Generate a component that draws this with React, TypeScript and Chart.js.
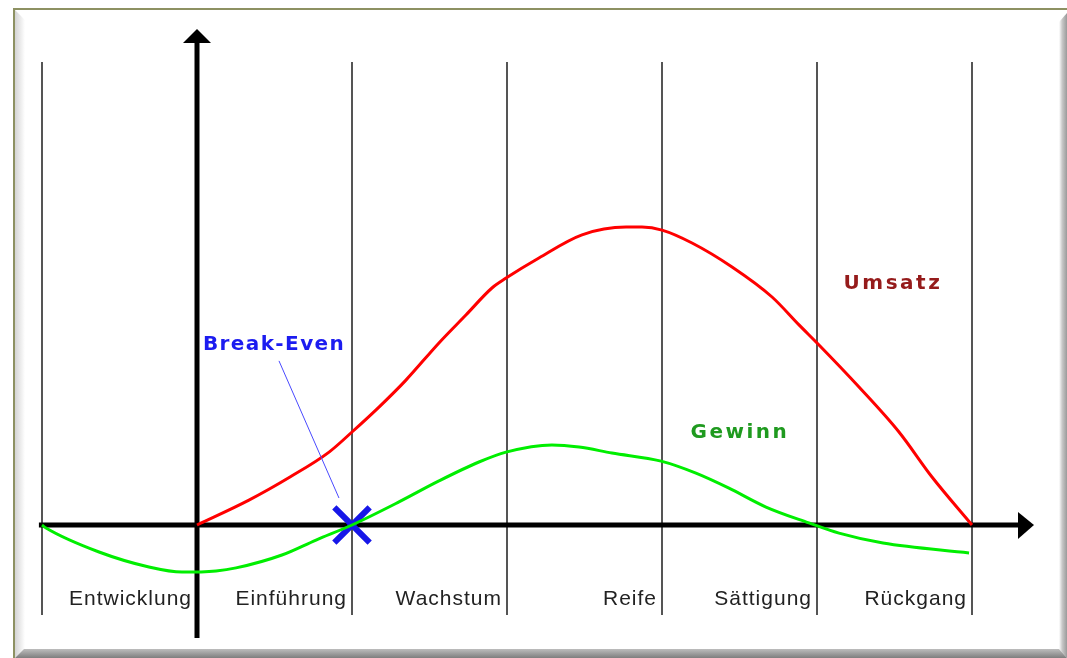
import React, { useEffect, useRef } from "react";
import { Chart, registerables } from "chart.js";

Chart.register(...registerables);

// Phase boundaries (x in phase units; 0 = y-axis)
const phaseBoundaries = [-1, 0, 1, 2, 3, 4, 5];
const phaseLabels = ["Entwicklung", "Einführung", "Wachstum", "Reife", "Sättigung", "Rückgang"];

// Umsatz (sales) curve
const umsatzX = [0, 0.335, 0.6, 0.852, 1.0, 1.174, 1.348, 1.561, 1.735, 1.903, 1.994, 2.206, 2.484, 2.768, 2.871, 3.0, 3.194, 3.452, 3.71, 3.884, 4.013, 4.271, 4.529, 4.742, 5.0];
const umsatzY = [0, 8.3, 16, 24.3, 31, 39.3, 48.3, 60.7, 70, 79, 82.3, 89, 96.7, 99.3, 99.3, 98.3, 94, 86, 76, 66.7, 60, 46, 31, 16, 0];

// Gewinn (profit) curve
const gewinnX = [-1, -0.974, -0.632, -0.31, -0.097, 0.123, 0.252, 0.548, 0.768, 1.0, 1.303, 1.561, 1.819, 1.994, 2.29, 2.465, 2.677, 2.994, 3.219, 3.432, 3.671, 3.948, 4.142, 4.426, 4.981];
const gewinnY = [0, -1, -9, -14, -15.7, -15.3, -14.3, -10, -5, 0, 7.7, 14.7, 21, 24.3, 26.7, 26, 24, 21.3, 17.3, 12.3, 6, 0.7, -2.7, -6, -9.3];

// Break-even point and its leader line
const breakEvenX = [1];
const breakEvenY = [0];
const leaderX = [0.529, 0.916];
const leaderY = [54.7, 9];

// Annotation texts
const textLabels = ["Break-Even", "Umsatz", "Gewinn"];
const textX = [0.497, 4.49, 3.503];
const textY = [58.3, 78.7, 29];
const textColors = ["#1c1cf0", "#951b1b", "#1f9a1f"];
const textSpacing = ["1.4px", "2.5px", "2.5px"];

// Scale extents
const X_MIN = -1.271;
const X_MAX = 5.613;
const Y_MIN = -44.33;
const Y_MAX = 175;
const PHASE_TOP = 154.3;
const PHASE_BOTTOM = -30;
const LABEL_Y = -26.7;
const AXIS_X_START = -1.02;
const AXIS_X_TIP = 5.4;
const AXIS_Y_BOTTOM = -37.7;
const AXIS_Y_TIP = 165.3;

const zip = (xs: number[], ys: number[]) => xs.map((x, i) => ({ x, y: ys[i] }));

const framePlugin = {
  id: "frame",
  beforeDraw(chart: any) {
    const ctx = chart.ctx as CanvasRenderingContext2D;
    const W = chart.width;
    const H = chart.height;
    ctx.save();
    ctx.fillStyle = "#ffffff";
    ctx.fillRect(0, 0, W, H);
    // left bevel
    let g = ctx.createLinearGradient(15, 0, 25, 0);
    g.addColorStop(0, "#d4d4d4");
    g.addColorStop(1, "#ffffff");
    ctx.fillStyle = g;
    ctx.beginPath();
    ctx.moveTo(15, 10);
    ctx.lineTo(25, 20);
    ctx.lineTo(25, 649);
    ctx.lineTo(15, 658);
    ctx.closePath();
    ctx.fill();
    // right bevel
    g = ctx.createLinearGradient(1059, 0, 1067, 0);
    g.addColorStop(0, "#ffffff");
    g.addColorStop(0.4, "#c8c8c8");
    g.addColorStop(1, "#9a9a9a");
    ctx.fillStyle = g;
    ctx.beginPath();
    ctx.moveTo(1059, 22);
    ctx.lineTo(1067, 13);
    ctx.lineTo(1067, 658);
    ctx.lineTo(1059, 649);
    ctx.closePath();
    ctx.fill();
    // bottom bevel
    g = ctx.createLinearGradient(0, 648, 0, 658);
    g.addColorStop(0, "#c4c4c4");
    g.addColorStop(1, "#7e7e7e");
    ctx.fillStyle = g;
    ctx.beginPath();
    ctx.moveTo(15, 658);
    ctx.lineTo(24, 649);
    ctx.lineTo(1059, 649);
    ctx.lineTo(1067, 658);
    ctx.closePath();
    ctx.fill();
    // olive border
    ctx.strokeStyle = "#8d9162";
    ctx.lineWidth = 2;
    ctx.beginPath();
    ctx.moveTo(13, 9);
    ctx.lineTo(W, 9);
    ctx.moveTo(14, 8);
    ctx.lineTo(14, H);
    ctx.stroke();
    ctx.restore();
  },
  beforeDatasetsDraw(chart: any) {
    const ctx = chart.ctx as CanvasRenderingContext2D;
    const xs = chart.scales.x;
    const ys = chart.scales.y;
    ctx.save();
    // phase lines
    ctx.strokeStyle = "#555555";
    ctx.lineWidth = 2;
    phaseBoundaries.forEach((b) => {
      if (b === 0) return;
      const px = Math.round(xs.getPixelForValue(b));
      ctx.beginPath();
      ctx.moveTo(px, ys.getPixelForValue(PHASE_TOP));
      ctx.lineTo(px, ys.getPixelForValue(PHASE_BOTTOM));
      ctx.stroke();
    });
    // axes
    const x0 = xs.getPixelForValue(0);
    const y0 = ys.getPixelForValue(0);
    const xTip = xs.getPixelForValue(AXIS_X_TIP);
    const yTip = ys.getPixelForValue(AXIS_Y_TIP);
    ctx.strokeStyle = "#000000";
    ctx.fillStyle = "#000000";
    ctx.lineWidth = 5;
    ctx.beginPath();
    ctx.moveTo(xs.getPixelForValue(AXIS_X_START), y0);
    ctx.lineTo(xTip - 14, y0);
    ctx.moveTo(x0, ys.getPixelForValue(AXIS_Y_BOTTOM));
    ctx.lineTo(x0, yTip + 12);
    ctx.stroke();
    // arrowheads
    ctx.beginPath();
    ctx.moveTo(xTip, y0);
    ctx.lineTo(xTip - 16, y0 - 13);
    ctx.lineTo(xTip - 16, y0 + 14);
    ctx.closePath();
    ctx.fill();
    ctx.beginPath();
    ctx.moveTo(x0, yTip);
    ctx.lineTo(x0 - 14, yTip + 14);
    ctx.lineTo(x0 + 14, yTip + 14);
    ctx.closePath();
    ctx.fill();
    ctx.restore();
  },
  afterDatasetsDraw(chart: any) {
    const ctx = chart.ctx as CanvasRenderingContext2D;
    const xs = chart.scales.x;
    const ys = chart.scales.y;
    ctx.save();
    // phase labels (right aligned before the next boundary)
    ctx.fillStyle = "#222222";
    ctx.font = "21px 'Liberation Sans', Arial, sans-serif";
    (ctx as any).letterSpacing = "1px";
    ctx.textAlign = "right";
    ctx.textBaseline = "alphabetic";
    phaseLabels.forEach((lbl, i) => {
      const px = xs.getPixelForValue(phaseBoundaries[i + 1]) - 5;
      ctx.fillText(lbl, px, ys.getPixelForValue(LABEL_Y));
    });
    // annotation texts
    ctx.font = "bold 20px 'DejaVu Sans', Verdana, sans-serif";
    ctx.textAlign = "center";
    textLabels.forEach((t, i) => {
      (ctx as any).letterSpacing = textSpacing[i];
      ctx.fillStyle = textColors[i];
      ctx.fillText(t, xs.getPixelForValue(textX[i]), ys.getPixelForValue(textY[i]));
    });
    ctx.restore();
  },
};

export default function App() {
  const ref = useRef<HTMLCanvasElement | null>(null);
  useEffect(() => {
    if (!ref.current) return;
    const chart = new Chart(ref.current, {
      type: "line",
      data: {
        datasets: [
          {
            label: "Leader",
            data: zip(leaderX, leaderY),
            borderColor: "#4a4aff",
            borderWidth: 1,
            pointRadius: 0,
            tension: 0,
          },
          {
            label: "Umsatz",
            data: zip(umsatzX, umsatzY),
            borderColor: "#ff0000",
            borderWidth: 3,
            pointRadius: 0,
            cubicInterpolationMode: "monotone",
          },
          {
            label: "Gewinn",
            data: zip(gewinnX, gewinnY),
            borderColor: "#00ee00",
            borderWidth: 3,
            pointRadius: 0,
            cubicInterpolationMode: "monotone",
          },
          {
            label: "Break-Even",
            data: zip(breakEvenX, breakEvenY),
            showLine: false,
            pointStyle: "crossRot",
            pointRadius: 25,
            pointBorderWidth: 6,
            pointBorderColor: "#1717e8",
            borderColor: "#1717e8",
          } as any,
        ],
      },
      options: {
        animation: false,
        responsive: false,
        devicePixelRatio: 1,
        layout: { padding: 0, autoPadding: false } as any,
        scales: {
          x: { type: "linear", min: X_MIN, max: X_MAX, display: false },
          y: { type: "linear", min: Y_MIN, max: Y_MAX, display: false },
        },
        plugins: {
          legend: { display: false },
          tooltip: { enabled: false },
        },
        events: [],
      },
      plugins: [framePlugin],
    });
    return () => chart.destroy();
  }, []);
  return (
    <div style={{ position: "fixed", left: 0, top: 0, width: 1067, height: 658 }}>
      <canvas ref={ref} width={1067} height={658} style={{ display: "block" }} />
    </div>
  );
}
